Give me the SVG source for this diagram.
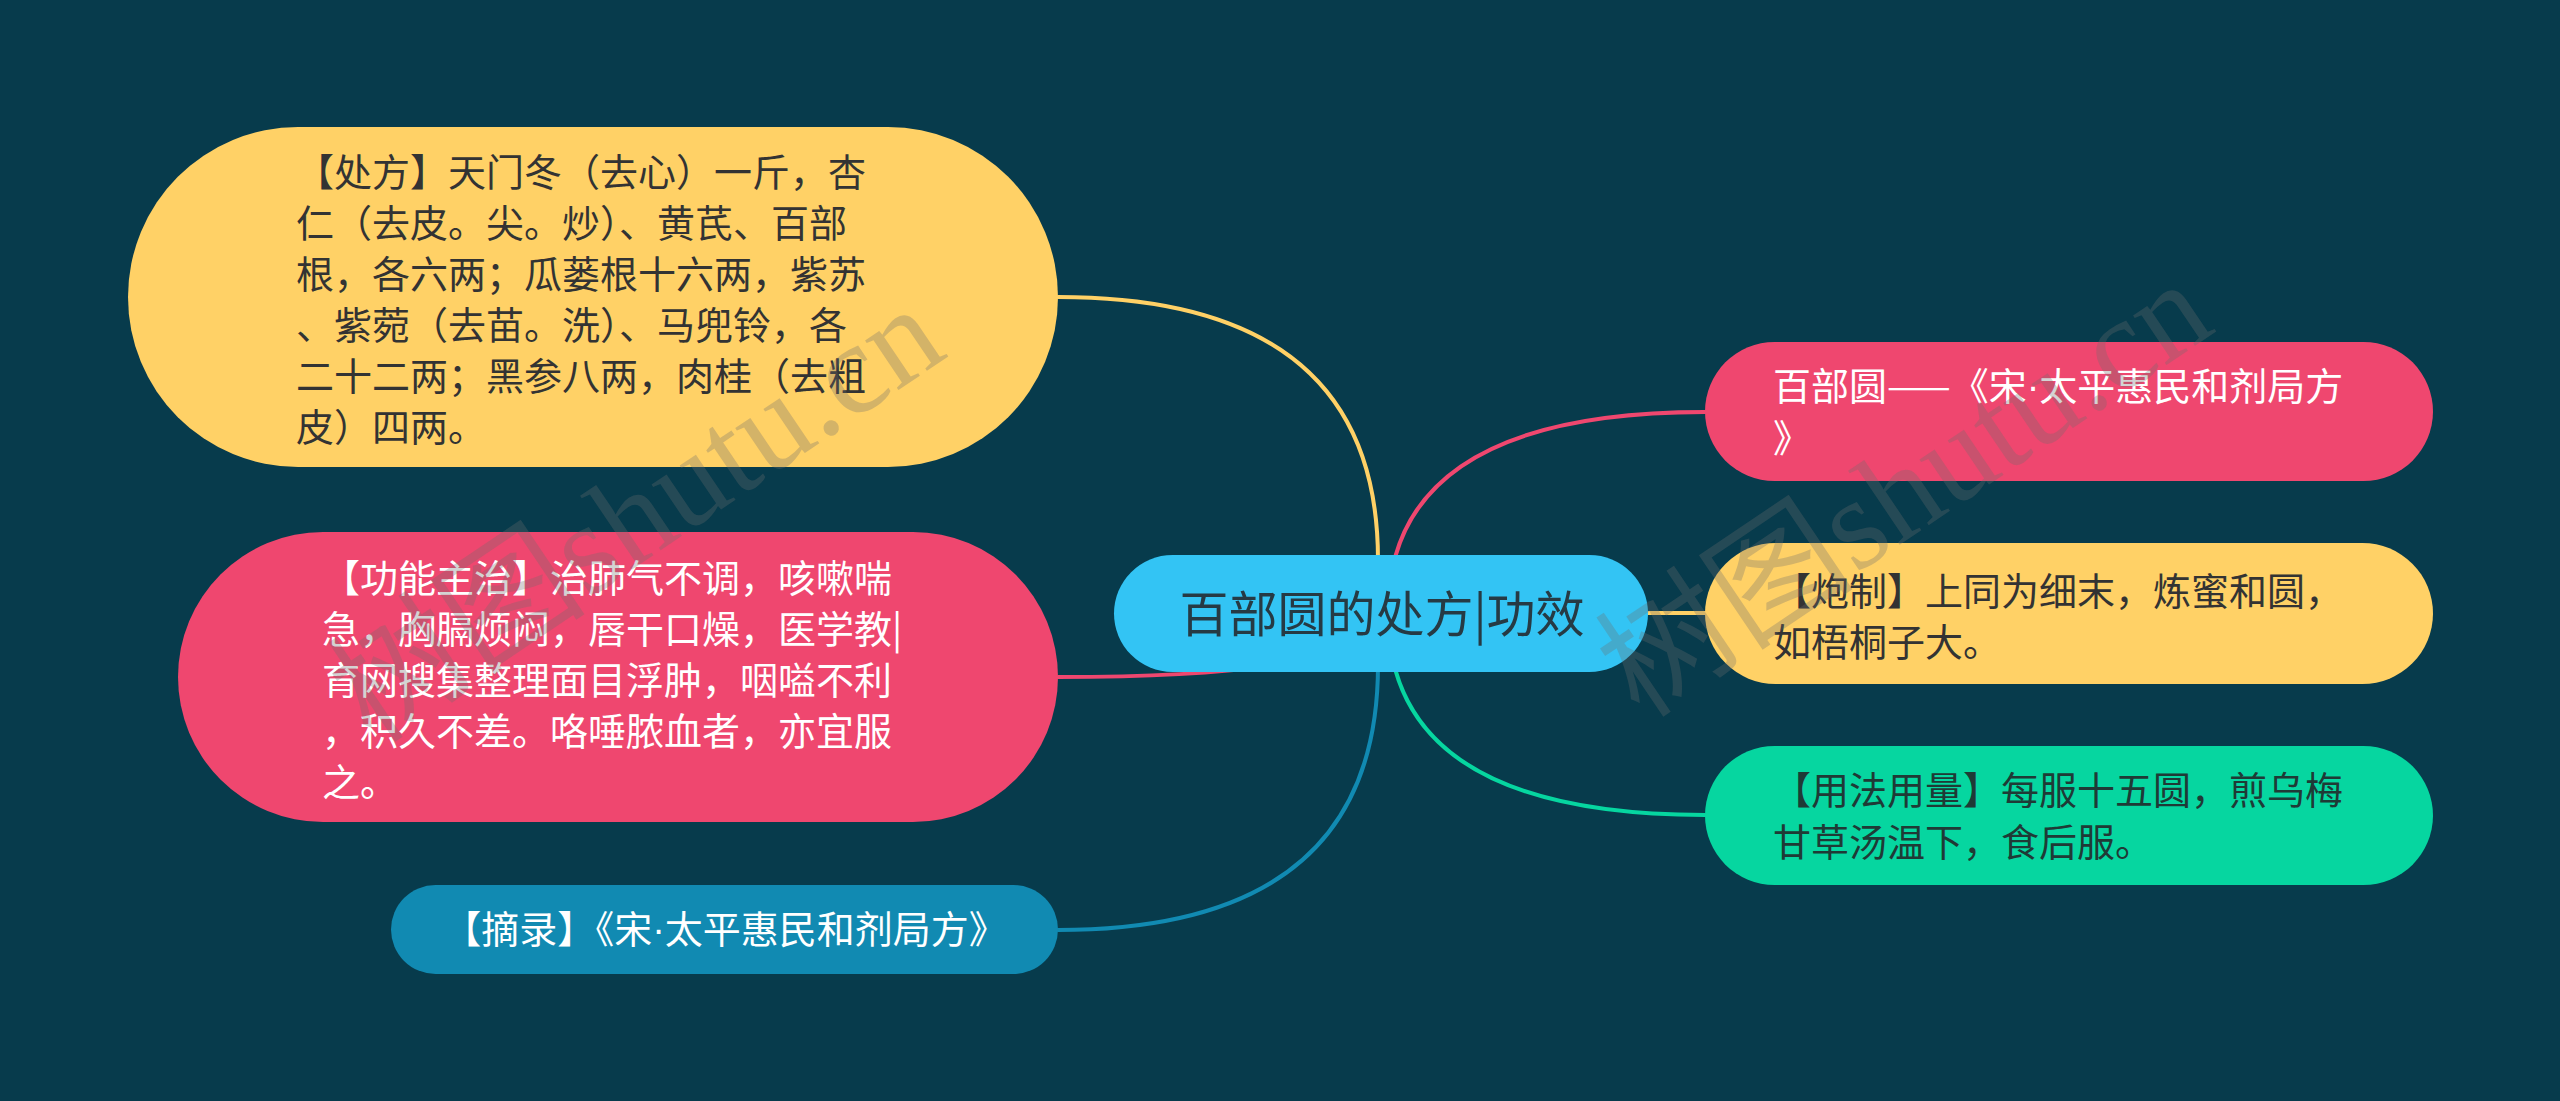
<svg xmlns="http://www.w3.org/2000/svg" width="2560" height="1101" viewBox="0 0 2560 1101">
<defs>
<style>
.bg{fill:#073b4c}
.t{font-family:"Noto Sans CJK SC","Noto Sans",sans-serif;font-size:38px}
.dot{font-family:"Liberation Sans","Noto Sans",sans-serif}
.dark{fill:#333333}
.light{fill:#ffffff}
.link{fill:none;stroke-width:4;stroke-linecap:round}
.wm{font-family:"Liberation Serif","Noto Sans CJK SC",serif;font-size:130px;fill:#6e6e6e;fill-opacity:0.3}
</style>
</defs>
<rect class="bg" x="0" y="0" width="2560" height="1101"/>
<g id="connectors">
<path class="link" stroke="#ffd166" d="M1378 560 Q1378 297 1058 297"/>
<path class="link" stroke="#ef476f" d="M1381 613 Q1381 677 1058 677"/>
<path class="link" stroke="#118ab2" d="M1378 665 Q1378 930 1058 930"/>
<path class="link" stroke="#ef476f" d="M1388 613 Q1388 412 1705 412"/>
<path class="link" stroke="#ffd166" d="M1640 613 L1705 613"/>
<path class="link" stroke="#06d6a0" d="M1388 613 Q1388 815 1705 815"/>
</g>
<g id="center">
<rect x="1114" y="555" width="534" height="117" rx="58.5" fill="#33c4f4"/>
<text x="1382" y="632" text-anchor="middle" font-family="Noto Sans CJK SC, Noto Sans, sans-serif" font-size="49" fill="#263a44">百部圆的处方|功效</text>
</g>
<g id="node-chufang">
<rect x="128" y="127" width="930" height="340" rx="170" fill="#ffd166"/>
<text class="t dark">
<tspan x="296" y="186">【处方】天门冬（去心）一斤，杏</tspan>
<tspan x="296" y="237">仁（去皮。尖。炒）、黄芪、百部</tspan>
<tspan x="296" y="288">根，各六两；瓜蒌根十六两，紫苏</tspan>
<tspan x="296" y="339">、紫菀（去苗。洗）、马兜铃，各</tspan>
<tspan x="296" y="390">二十二两；黑参八两，肉桂（去粗</tspan>
<tspan x="296" y="441">皮）四两。</tspan>
</text>
</g>
<g id="node-gongneng">
<rect x="178" y="532" width="880" height="290" rx="145" fill="#ef476f"/>
<text class="t light">
<tspan x="322" y="592">【功能主治】治肺气不调，咳嗽喘</tspan>
<tspan x="322" y="643">急，胸膈烦闷，唇干口燥，医学教|</tspan>
<tspan x="322" y="694">育网搜集整理面目浮肿，咽嗌不利</tspan>
<tspan x="322" y="745">，积久不差。咯唾脓血者，亦宜服</tspan>
<tspan x="322" y="796">之。</tspan>
</text>
</g>
<g id="node-zhailu">
<rect x="391" y="885" width="667" height="89" rx="44.5" fill="#118ab2"/>
<text class="t light" x="725" y="943" text-anchor="middle">【摘录】《宋<tspan class="dot">·</tspan>太平惠民和剂局方》</text>
</g>
<g id="node-source">
<rect x="1705" y="342" width="728" height="139" rx="69.5" fill="#ef476f"/>
<text class="t light">
<tspan x="1773" y="400">百部圆——《宋<tspan class="dot">·</tspan>太平惠民和剂局方</tspan>
<tspan x="1773" y="452">》</tspan>
</text>
</g>
<g id="node-paozhi">
<rect x="1705" y="543" width="728" height="141" rx="70.5" fill="#ffd166"/>
<text class="t dark">
<tspan x="1773" y="605">【炮制】上同为细末，炼蜜和圆，</tspan>
<tspan x="1773" y="656">如梧桐子大。</tspan>
</text>
</g>
<g id="node-yongfa">
<rect x="1705" y="746" width="728" height="139" rx="69.5" fill="#06d6a0"/>
<text class="t" fill="#1f3a36">
<tspan x="1773" y="804">【用法用量】每服十五圆，煎乌梅</tspan>
<tspan x="1773" y="856">甘草汤温下，食后服。</tspan>
</text>
</g>
<g id="watermarks">
<text class="wm" transform="translate(372 745) rotate(-34)">树图shutu.cn</text>
<text class="wm" transform="translate(1640 720) rotate(-34)">树图shutu.cn</text>
</g>
</svg>
